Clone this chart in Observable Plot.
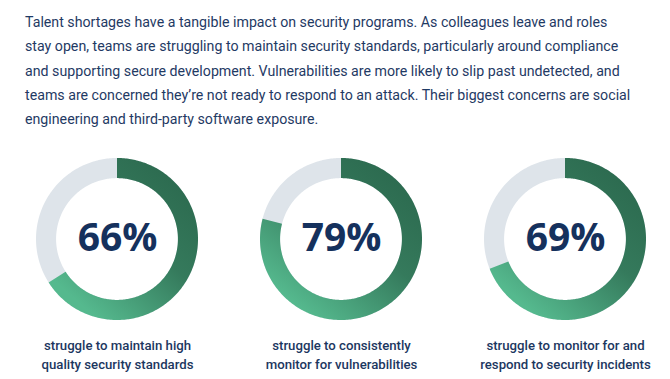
<!DOCTYPE html>
<html>
<head>
<meta charset="utf-8">
<script src="https://cdn.jsdelivr.net/npm/d3@7"></script>
<script src="https://cdn.jsdelivr.net/npm/@observablehq/plot@0.6"></script>
<style>
  html, body { margin: 0; padding: 0; background: #fff; }
  #intro {
    font-family: Roboto, sans-serif; font-size: 14.2px; line-height: 24.3px;
    color: #1f3a64; padding: 10px 0 0 25px; height: 130px; box-sizing: border-box;
    white-space: nowrap;
  }
  #chart svg { display: block; }
</style>
</head>
<body>
<div id="intro">Talent shortages have a tangible impact on security programs. As colleagues leave and roles<br>stay open, teams are struggling to maintain security standards, particularly around compliance<br>and supporting secure development. Vulnerabilities are more likely to slip past undetected, and<br>teams are concerned they’re not ready to respond to an attack. Their biggest concerns are social<br>engineering and third-party software exposure.</div>
<div id="chart"></div>
<script>
const keys = [0, 1, 2];
const values = [66, 79, 69];
const captions = [
  "struggle to maintain high\nquality security standards",
  "struggle to consistently\nmonitor for vulnerabilities",
  "struggle to monitor for and\nrespond to security incidents"
];

const R_OUT = 1, R_IN = 0.752;
function ring(key, fraction) {
  const n = Math.max(2, Math.round(fraction * 360));
  return d3.range(n + 1).map(k => {
    const t = (k / n) * fraction * 2 * Math.PI;
    return {key, s: Math.sin(t), c: Math.cos(t)};
  });
}
const bgPts = keys.flatMap(k => ring(k, 1));
const fgPts = keys.flatMap((k, i) => ring(k, values[i] / 100));
const centers = keys.map((k, i) => ({key: k, label: values[i] + "%", caption: captions[i]}));

const plot = Plot.plot({
  width: 670,
  height: 249,
  marginTop: 28,
  marginBottom: 59,
  marginLeft: 35,
  marginRight: 24,
  style: {background: "#fff"},
  fx: {domain: keys, axis: null, paddingInner: 0.278, paddingOuter: 0},
  x: {domain: [-1, 1], axis: null},
  y: {domain: [-1, 1], axis: null},
  marks: [
    Plot.area(bgPts, {fx: "key", x1: d => R_OUT * d.s, y1: d => R_OUT * d.c, x2: d => R_IN * d.s, y2: d => R_IN * d.c, fill: "#dee4ea"}),
    Plot.area(fgPts, {fx: "key", x1: d => R_OUT * d.s, y1: d => R_OUT * d.c, x2: d => R_IN * d.s, y2: d => R_IN * d.c, fill: "url(#ringGrad)"}),
    Plot.text(centers, {fx: "key", x: () => 0, y: () => 0, dy: -1, text: "label", fontFamily: "Open Sans", fontWeight: 700, fontSize: 39, fill: "#15315d"}),
    Plot.text(centers, {fx: "key", x: () => 0, y: () => -1, text: "caption", lineAnchor: "top", dy: 17, lineHeight: 1.38, fontFamily: "Roboto", fontWeight: 500, fontSize: 13.2, fill: "#1c375f"})
  ]
});

const defs = document.createElementNS("http://www.w3.org/2000/svg", "defs");
defs.innerHTML = `<linearGradient id="ringGrad" x1="0.8" y1="0.05" x2="0.15" y2="0.85">
  <stop offset="0" stop-color="#2c6a4f"/>
  <stop offset="0.45" stop-color="#357a5c"/>
  <stop offset="1" stop-color="#55b98e"/>
</linearGradient>`;
plot.insertBefore(defs, plot.firstChild);
document.getElementById("chart").appendChild(plot);
</script>
</body>
</html>
